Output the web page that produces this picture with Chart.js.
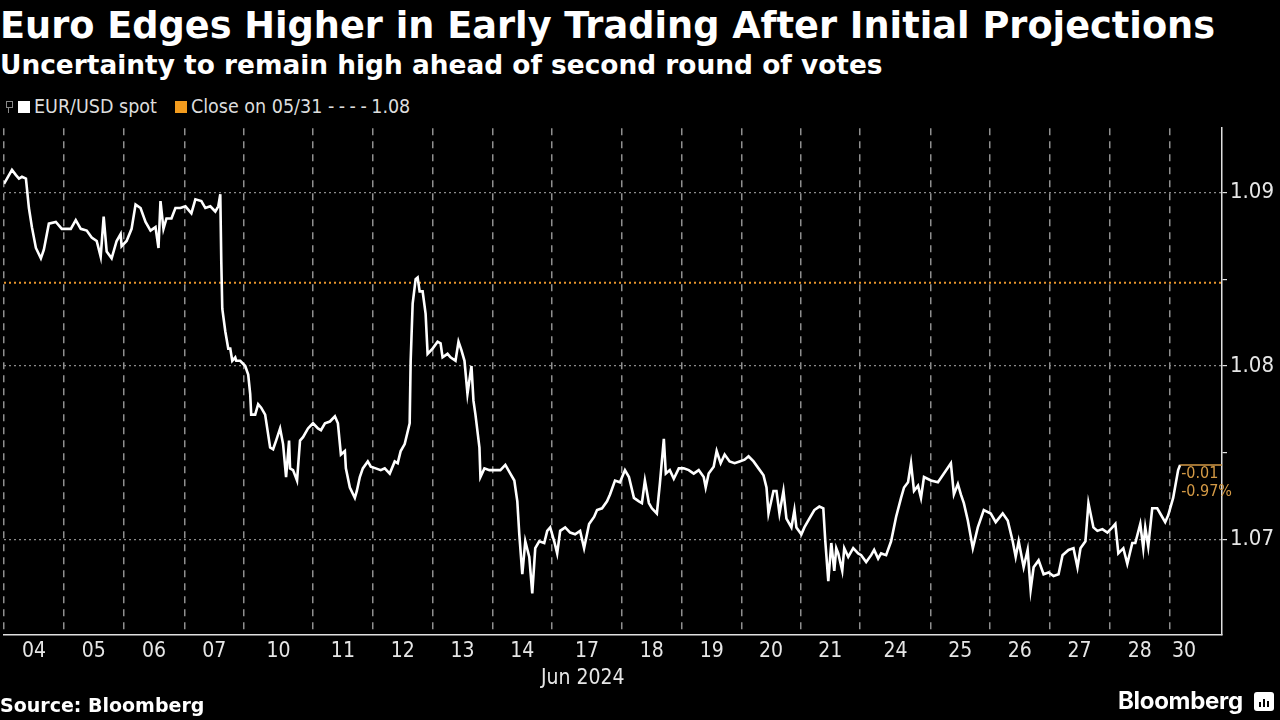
<!DOCTYPE html>
<html>
<head>
<meta charset="utf-8">
<script src="https://cdn.jsdelivr.net/npm/chart.js@4.4.1/dist/chart.umd.min.js"></script>
<style>
  body { margin: 0; background: #000; width: 1280px; height: 720px; overflow: hidden; position: relative;
         font-family: "DejaVu Sans Condensed", "DejaVu Sans", sans-serif; color: #fff; }
  .abs { position: absolute; white-space: nowrap; line-height: 1; }
  .wide { font-family: "DejaVu Sans", sans-serif; }
  #title { left: 0; top: 8px; font-size: 36.7px; font-weight: bold; }
  #subtitle { left: 0; top: 52px; font-size: 26.4px; font-weight: bold; }
  #legend { left: 6px; top: 97px; font-size: 19.5px; color: #ddd; display: flex; align-items: center; }
  #legend .pin { width: 5px; height: 5px; border: 1px solid #888; margin-right: 5px; position: relative; top: -2px; }
  #legend .pin:after { content: ""; position: absolute; left: 1px; top: 6px; width: 1px; height: 5px; background: #888; }
  #legend .sw { width: 12px; height: 12px; display: inline-block; margin-right: 4px; }
  #legend .dash { letter-spacing: 4.5px; }
  #wrap { position: absolute; left: 0; top: 112px; width: 1280px; height: 608px; }
  #jun { left: 541px; top: 667px; font-size: 21px; color: #e6e6e6; }
  #source { left: 0; top: 696px; font-size: 19px; font-weight: bold; }
  #brand { left: 1118px; top: 689px; font-size: 24px; font-weight: bold; font-family: Inter, "DejaVu Sans", sans-serif; letter-spacing: -0.3px; }
  #logo { position: absolute; left: 1254px; top: 692px; width: 20px; height: 19px; background: #fff; border-radius: 3px; }
  #logo i { position: absolute; bottom: 4px; width: 2px; background: #000; }
</style>
</head>
<body>
<div id="title" class="abs wide">Euro Edges Higher in Early Trading After Initial Projections</div>
<div id="subtitle" class="abs wide">Uncertainty to remain high ahead of second round of votes</div>
<div id="legend" class="abs">
  <span class="pin"></span><span class="sw" style="background:#fff"></span><span>EUR/USD spot</span>
  <span class="sw" style="background:#f39c1e;margin-left:18px"></span><span>Close on 05/31 <span class="dash">----</span>1.08</span>
</div>
<div id="wrap"><canvas id="chart"></canvas></div>
<div id="jun" class="abs">Jun 2024</div>
<div id="source" class="abs wide">Source: Bloomberg</div>
<div id="brand" class="abs">Bloomberg</div>
<div id="logo"><i style="left:5px;height:5px"></i><i style="left:9px;height:8px"></i><i style="left:13px;height:6px"></i></div>

<script>
// time is counted in 24-minute bars from the start of the window (60 bars = one session)
const sessionStarts = [0, 60, 120, 181, 241, 310, 370, 430, 490, 550, 620, 680, 740, 799, 859, 930, 989, 1049, 1109, 1170];
const sessionEnd = 1198;
const windowEnd = 1222;
const dayLabels = ['04', '05', '06', '07', '10', '11', '12', '13', '14', '17', '18', '19', '20', '21', '24', '25', '26', '27', '28', '30'];

const yTicks = [1.07, 1.075, 1.08, 1.085, 1.09];
const yMin = 1.0645;
const yMax = 1.0937;
const closeValue = 1.0848; // close on 05/31

const bars = [
  0, 3, 8, 12, 15, 18, 22, 25, 28, 32,
  37, 40, 45, 52, 58, 67, 72, 77, 83, 88,
  93, 97, 100, 103, 108, 113, 117, 118, 123, 128,
  132, 137, 142, 147, 152, 155, 157, 160, 163, 168,
  172, 177, 182, 188, 192, 198, 202, 207, 212, 215,
  217, 218, 219, 222, 225, 227, 229, 232, 233, 237,
  242, 245, 247, 248, 252, 255, 258, 262, 267, 270,
  273, 277, 280, 283, 286, 287, 290, 294, 297, 300,
  305, 310, 315, 318, 322, 327, 332, 335, 338, 342,
  343, 347, 352, 354, 357, 360, 365, 368, 373, 378,
  382, 387, 392, 395, 398, 402, 407, 408, 410, 413,
  415, 417, 420, 423, 425, 430, 435, 438, 440, 445,
  448, 453, 456, 459, 462, 465, 469, 471, 473, 477,
  478, 482, 487, 493, 498, 503, 508, 512, 515, 517,
  520, 523, 527, 530, 533, 537, 542, 545, 548, 552,
  555, 558, 563, 568, 573, 578, 582, 587, 592, 595,
  600, 605, 608, 613, 618, 623, 627, 632, 637, 640,
  643, 647, 650, 655, 658, 662, 664, 668, 672, 677,
  682, 687, 692, 697, 702, 704, 707, 712, 715, 719,
  723, 728, 733, 738, 743, 747, 752, 757, 762, 765,
  767, 772, 775, 778, 782, 785, 790, 793, 795, 800,
  803, 808, 813, 818, 822, 824, 827, 830, 833, 835,
  837, 841, 843, 847, 852, 857, 860, 865, 870, 873,
  877, 880, 885, 890, 895, 900, 903, 907, 910, 913,
  917, 920, 923, 930, 937, 943, 950, 953, 957, 960,
  963, 967, 972, 977, 983, 990, 995, 1002, 1007, 1012,
  1015, 1018, 1023, 1027, 1030, 1033, 1038, 1043, 1048, 1053,
  1058, 1062, 1068, 1073, 1077, 1080, 1085, 1088, 1093, 1097,
  1102, 1107, 1112, 1115, 1118, 1123, 1127, 1132, 1135, 1140,
  1143, 1145, 1148, 1152, 1157, 1160, 1165, 1168, 1173, 1178,
  1180
];

const spot = [
  1.0905, 1.0908, 1.0913, 1.0910, 1.0908, 1.0909, 1.0908, 1.0891, 1.0880, 1.0868,
  1.0862, 1.0867, 1.0882, 1.0883, 1.0879, 1.0879, 1.0884, 1.0879, 1.0878, 1.0874,
  1.0872, 1.0863, 1.0886, 1.0866, 1.0862, 1.0872, 1.0876, 1.0869, 1.0872, 1.0879,
  1.0893, 1.0891, 1.0883, 1.0878, 1.0880, 1.0868, 1.0895, 1.0879, 1.0885, 1.0885,
  1.0891, 1.0891, 1.0892, 1.0888, 1.0896, 1.0895, 1.0891, 1.0892, 1.0889, 1.0892,
  1.0899, 1.0860, 1.0833, 1.0820, 1.0810, 1.0810, 1.0803, 1.0805, 1.0803, 1.0803,
  1.0800, 1.0795, 1.0784, 1.0772, 1.0772, 1.0778, 1.0776, 1.0772, 1.0753, 1.0752,
  1.0757, 1.0764, 1.0755, 1.0736, 1.0757, 1.0741, 1.0740, 1.0734, 1.0757, 1.0759,
  1.0764, 1.0767, 1.0764, 1.0763, 1.0767, 1.0768, 1.0771, 1.0767, 1.0749, 1.0751,
  1.0741, 1.0730, 1.0724, 1.0728, 1.0736, 1.0741, 1.0745, 1.0742, 1.0741, 1.0740,
  1.0741, 1.0738, 1.0745, 1.0744, 1.0751, 1.0755, 1.0767, 1.0803, 1.0836, 1.0850,
  1.0851, 1.0843, 1.0843, 1.0830, 1.0807, 1.0810, 1.0814, 1.0813, 1.0805, 1.0807,
  1.0805, 1.0803, 1.0814, 1.0809, 1.0803, 1.0784, 1.0800, 1.0780, 1.0772, 1.0753,
  1.0736, 1.0741, 1.0740, 1.0740, 1.0740, 1.0743, 1.0738, 1.0734, 1.0722, 1.0703,
  1.0680, 1.0699, 1.0690, 1.0669, 1.0695, 1.0699, 1.0698, 1.0705, 1.0707, 1.0699,
  1.0692, 1.0705, 1.0707, 1.0704, 1.0703, 1.0705, 1.0695, 1.0709, 1.0713, 1.0717,
  1.0718, 1.0722, 1.0726, 1.0734, 1.0733, 1.0740, 1.0736, 1.0724, 1.0722, 1.0721,
  1.0734, 1.0721, 1.0718, 1.0715, 1.0732, 1.0758, 1.0738, 1.0740, 1.0735, 1.0741,
  1.0741, 1.0740, 1.0738, 1.0740, 1.0736, 1.0730, 1.0738, 1.0742, 1.0751, 1.0744,
  1.0749, 1.0745, 1.0744, 1.0745, 1.0746, 1.0748, 1.0745, 1.0741, 1.0737, 1.0730,
  1.0715, 1.0728, 1.0728, 1.0715, 1.0728, 1.0712, 1.0707, 1.0717, 1.0707, 1.0703,
  1.0707, 1.0712, 1.0717, 1.0719, 1.0718, 1.0699, 1.0676, 1.0698, 1.0682, 1.0695,
  1.0692, 1.0682, 1.0695, 1.0690, 1.0695, 1.0692, 1.0691, 1.0687, 1.0691, 1.0694,
  1.0689, 1.0692, 1.0691, 1.0699, 1.0713, 1.0724, 1.0730, 1.0733, 1.0744, 1.0728,
  1.0731, 1.0724, 1.0736, 1.0734, 1.0733, 1.0738, 1.0744, 1.0726, 1.0732, 1.0726,
  1.0721, 1.0711, 1.0695, 1.0707, 1.0717, 1.0715, 1.0710, 1.0715, 1.0711, 1.0699,
  1.0690, 1.0699, 1.0684, 1.0694, 1.0671, 1.0684, 1.0688, 1.0680, 1.0681, 1.0679,
  1.0680, 1.0691, 1.0694, 1.0695, 1.0684, 1.0695, 1.0699, 1.0721, 1.0707, 1.0705,
  1.0706, 1.0704, 1.0707, 1.0709, 1.0692, 1.0695, 1.0686, 1.0698, 1.0698, 1.0709,
  1.0695, 1.0707, 1.0696, 1.0718, 1.0718, 1.0715, 1.0710, 1.0714, 1.0724, 1.0740,
  1.0743
];

const FONT = '"DejaVu Sans Condensed", "DejaVu Sans", sans-serif';
Chart.defaults.font.family = FONT;

// label for each session sits in the middle of that session
const bounds = sessionStarts.concat([sessionEnd]);
const labelAt = dayLabels.map((d, i) => (bounds[i] + bounds[i + 1]) / 2);

// orange change box at the end of the line
const endLabel = {
  id: 'endLabel',
  afterDatasetsDraw(chart) {
    const meta = chart.getDatasetMeta(0);
    const pt = meta.data[meta.data.length - 1];
    const ctx = chart.ctx;
    const last = spot[spot.length - 1];
    const diff = last - closeValue;
    const pct = diff / closeValue * 100;
    ctx.save();
    ctx.strokeStyle = '#d49a46';
    ctx.lineWidth = 1.5;
    ctx.beginPath();
    ctx.moveTo(pt.x, pt.y);
    ctx.lineTo(chart.chartArea.right, pt.y);
    ctx.stroke();
    ctx.fillStyle = '#d49a46';
    ctx.font = '16px ' + FONT;
    ctx.textBaseline = 'middle';
    ctx.fillText(diff.toFixed(2), pt.x + 1, pt.y + 9);
    ctx.fillText(pct.toFixed(2) + '%', pt.x + 1, pt.y + 27);
    ctx.restore();
  }
};

new Chart(document.getElementById('chart'), {
  type: 'line',
  data: {
    datasets: [{
      label: 'EUR/USD spot',
      data: bars.map((b, i) => ({ x: b, y: spot[i] })),
      borderColor: '#ffffff',
      borderWidth: 2.6,
      pointRadius: 0,
      tension: 0
    }, {
      label: 'Close on 05/31',
      data: [{ x: 0, y: closeValue }, { x: windowEnd, y: closeValue }],
      borderColor: '#e8952c',
      borderWidth: 2,
      borderDash: [2, 3],
      pointRadius: 0
    }]
  },
  options: {
    responsive: true,
    maintainAspectRatio: false,
    animation: false,
    layout: { padding: { top: 7, left: 0, right: 0, bottom: 0 } },
    plugins: { legend: { display: false }, tooltip: { enabled: false } },
    scales: {
      x: {
        type: 'linear',
        min: 0,
        max: windowEnd,
        afterBuildTicks: (scale) => {
          const vals = sessionStarts.concat(labelAt).sort((a, b) => a - b);
          scale.ticks = vals.map(v => ({ value: v }));
        },
        afterFit: (scale) => { scale.height = 85; },
        ticks: {
          autoSkip: false,
          maxRotation: 0,
          minRotation: 0,
          padding: 4,
          color: '#e6e6e6',
          font: { size: 21 },
          callback: (v) => {
            const i = labelAt.indexOf(v);
            return i >= 0 ? dayLabels[i] : '';
          }
        },
        grid: {
          drawTicks: false,
          lineWidth: 1.5,
          color: (c) => (c.tick && sessionStarts.includes(c.tick.value)) ? '#8f8f8f' : 'transparent'
        },
        border: { display: true, color: '#e0e0e0', width: 1.5, dash: [7, 6] }
      },
      y: {
        position: 'right',
        min: yMin,
        max: yMax,
        afterBuildTicks: (scale) => { scale.ticks = yTicks.map(v => ({ value: v })); },
        afterFit: (scale) => { scale.width = 58; },
        ticks: {
          padding: 3,
          color: '#e6e6e6',
          font: { size: 22 },
          callback: (v) => Math.abs(v * 100 - Math.round(v * 100)) < 1e-6 ? v.toFixed(2) : ''
        },
        grid: {
          tickLength: 5,
          tickColor: '#e0e0e0',
          lineWidth: 1.2,
          color: (c) => (c.tick && Math.abs(c.tick.value * 100 - Math.round(c.tick.value * 100)) < 1e-6) ? '#8a8a8a' : 'transparent'
        },
        border: { display: true, color: '#e0e0e0', width: 1.5, dash: [2, 3] }
      }
    }
  },
  plugins: [endLabel]
});
</script>
</body>
</html>
